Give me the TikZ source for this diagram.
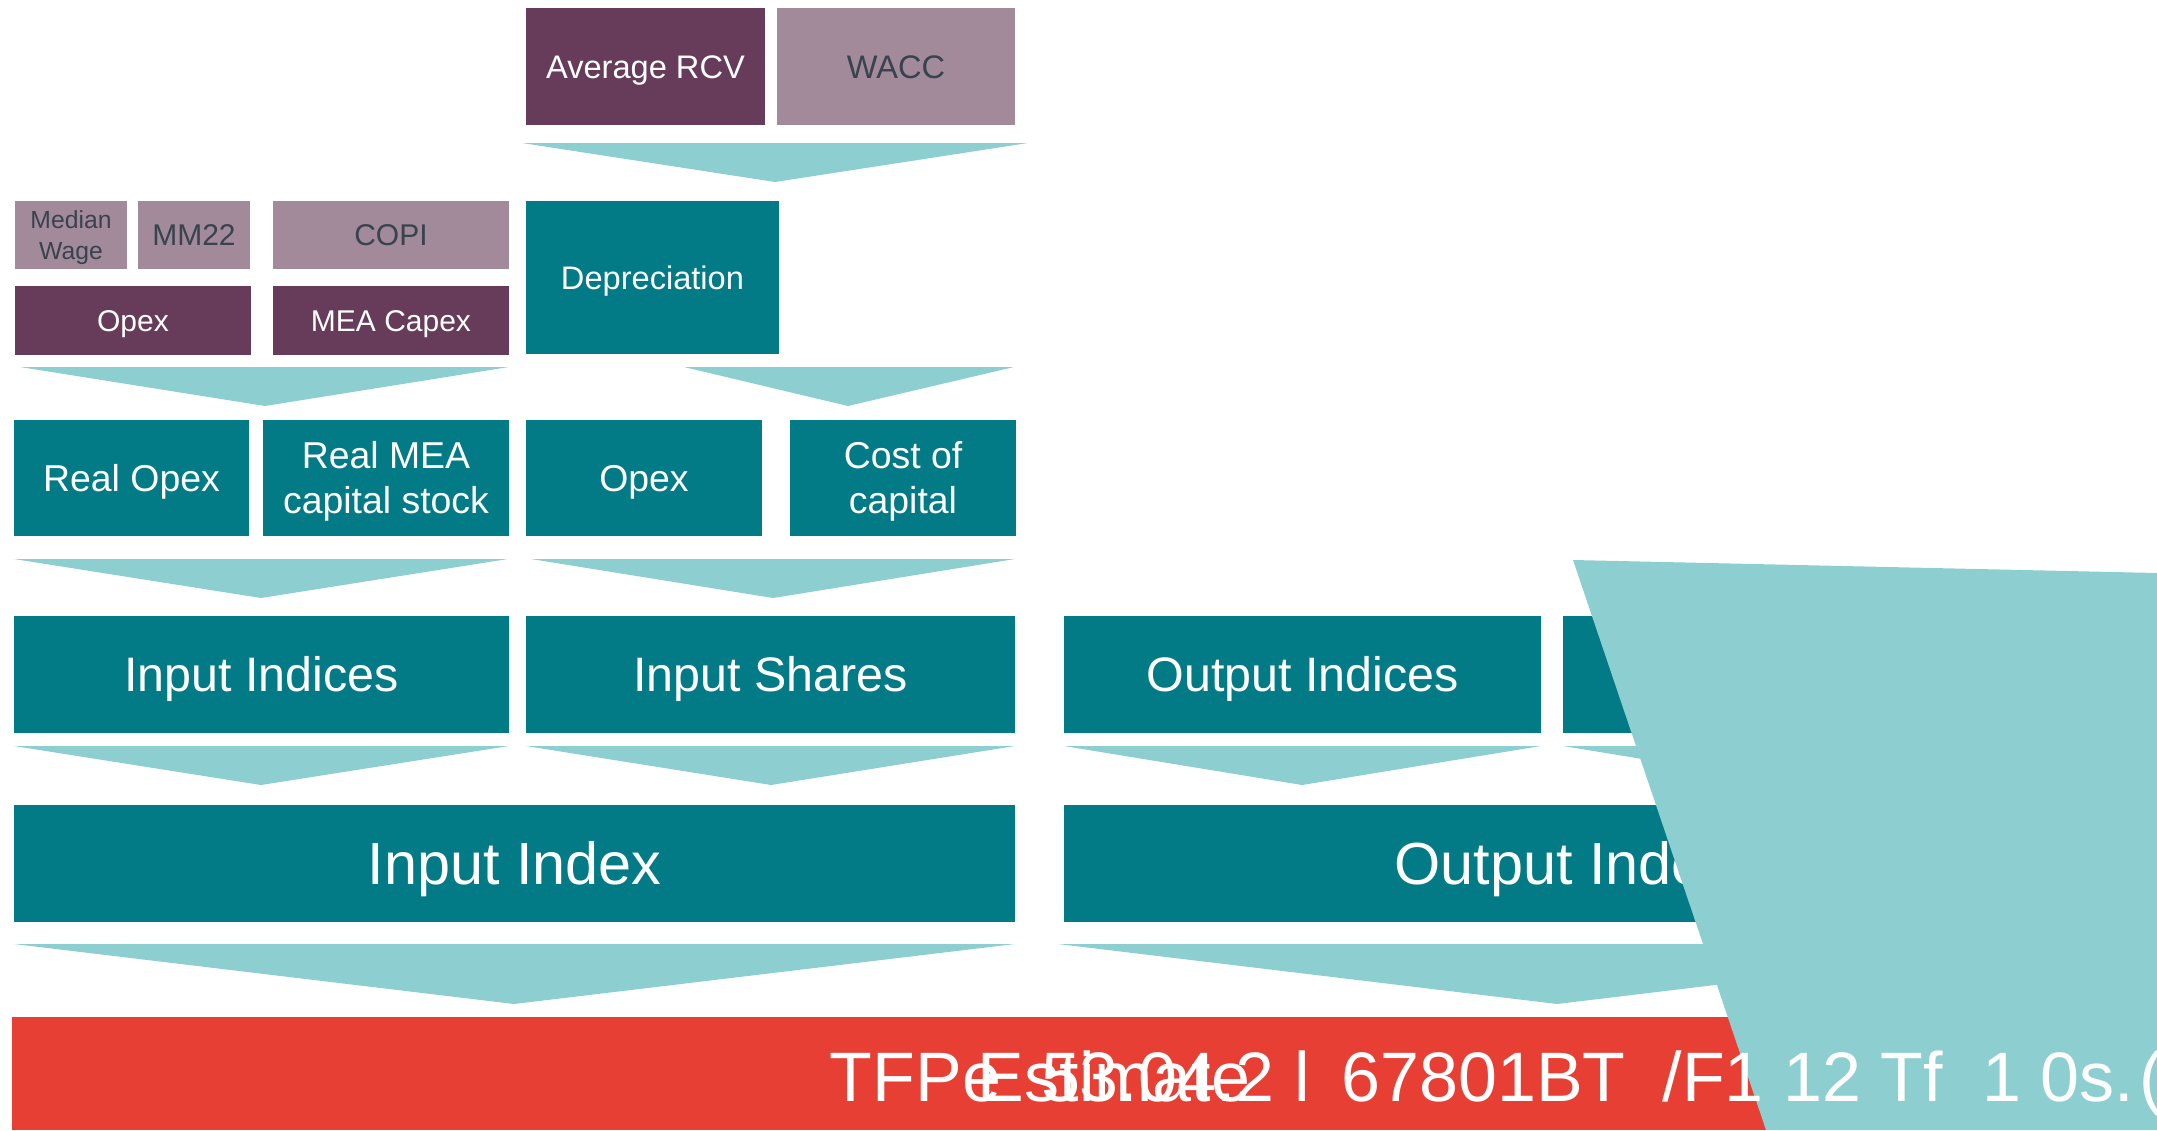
\documentclass[tikz,border=0pt]{standalone}
\usepackage{fontspec}
\setmainfont{Liberation Sans}
\definecolor{dpurple}{HTML}{673C5B}
\definecolor{lpurple}{HTML}{A38A9B}
\definecolor{tealbx}{HTML}{027B87}
\definecolor{lteal}{HTML}{8DCFD1}
\definecolor{redbar}{HTML}{E83F35}
\definecolor{darktext}{HTML}{37434D}
\tikzset{
  basebox/.style={rectangle, inner sep=0pt, outer sep=0pt, anchor=north west, align=center},
  tealbox/.style={basebox, fill=tealbx, text=white},
  dpbox/.style={basebox, fill=dpurple, text=white},
  lpbox/.style={basebox, fill=lpurple, text=darktext},
  chev/.style={fill=lteal},
  fA/.style={font=\fontsize{16.3pt}{19.6pt}\selectfont, text height=11.7pt, text depth=0pt},
  fB/.style={font=\fontsize{15pt}{18pt}\selectfont, text height=10.7pt, text depth=0pt},
  fMW/.style={font=\fontsize{12.35pt}{15.35pt}\selectfont, text height=24.2pt, text depth=0pt},
  fC/.style={font=\fontsize{18.7pt}{22.5pt}\selectfont, text height=13.4pt, text depth=0pt},
  fC2/.style={font=\fontsize{18.7pt}{22.5pt}\selectfont, text height=35.9pt, text depth=0pt},
  fD/.style={font=\fontsize{24.2pt}{29pt}\selectfont, text height=17.3pt, text depth=0pt},
  fE/.style={font=\fontsize{29.7pt}{35.6pt}\selectfont, text height=21.3pt, text depth=0pt},
  fT/.style={font=\fontsize{35pt}{42pt}\selectfont, text=white, inner sep=0pt, anchor=base west},
}
\begin{document}
\begin{tikzpicture}[x=0.5pt,y=-0.5pt]
\useasboundingbox (0,0) rectangle (2157,1130);
\clip (0,0) rectangle (2157,1130);
% row 1
\node[dpbox, fA, minimum width=119.5pt, minimum height=58.5pt] (avgrcv) at (526,8) {Average RCV};
\node[lpbox, fA, minimum width=119pt, minimum height=58.5pt] (wacc) at (777,8) {WACC};
\fill[chev] (522,143) -- (1028,143) -- (775,182) -- cycle;
% row 2
\node[lpbox, fMW, minimum width=56pt, minimum height=34pt] (median) at (15,201) {Median\\Wage};
\node[lpbox, fB, minimum width=56pt, minimum height=34pt] (mm22) at (138,201) {MM22};
\node[lpbox, fB, minimum width=118pt, minimum height=34pt] (copi) at (273,201) {COPI};
\node[tealbox, fA, minimum width=126.5pt, minimum height=76.5pt] (depr) at (526,201) {Depreciation};
\node[dpbox, fB, minimum width=118pt, minimum height=34.5pt] (opexA) at (15,286) {Opex};
\node[dpbox, fB, minimum width=118pt, minimum height=34.5pt] (capex) at (273,286) {MEA Capex};
\fill[chev] (20,367) -- (509,367) -- (265,406) -- cycle;
\fill[chev] (684,367) -- (1014,367) -- (848,406) -- cycle;
% row 3
\node[tealbox, fC, minimum width=117.5pt, minimum height=58pt] (realopex) at (14,420) {Real Opex};
\node[tealbox, fC2, minimum width=123pt, minimum height=58pt] (realmea) at (263,420) {Real MEA\\capital stock};
\node[tealbox, fC, minimum width=118pt, minimum height=58pt] (opexB) at (526,420) {Opex};
\node[tealbox, fC2, minimum width=113pt, minimum height=58pt] (coc) at (790,420) {Cost of\\capital};
\fill[chev] (14,559) -- (508,559) -- (261,598) -- cycle;
\fill[chev] (531,559) -- (1015,559) -- (773,598) -- cycle;
% row 4
\node[tealbox, fD, minimum width=247.5pt, minimum height=58.5pt] (inind) at (14,616) {Input Indices};
\node[tealbox, fD, minimum width=244.5pt, minimum height=58.5pt] (inshares) at (526,616) {Input Shares};
\node[tealbox, fD, minimum width=238.5pt, minimum height=58.5pt] (outind) at (1064,616) {Output Indices};
\node[tealbox, fD, minimum width=238.5pt, minimum height=58.5pt] (outind2) at (1563,616) {};
\fill[chev] (14,746) -- (509,746) -- (261,785) -- cycle;
\fill[chev] (526,746) -- (1015,746) -- (771,785) -- cycle;
\fill[chev] (1064,746) -- (1541,746) -- (1302,785) -- cycle;
\fill[chev] (1563,746) -- (2040,746) -- (1801,785) -- cycle;
% row 5
\node[tealbox, fE, minimum width=500.5pt, minimum height=58.5pt] (inindex) at (14,805) {Input Index};
\node[tealbox, fE, minimum width=500.5pt, minimum height=58.5pt] (outindex) at (1064,805) {Output Index};
\fill[chev] (14,944) -- (1015,944) -- (514,1004) -- cycle;
\fill[chev] (1058,944) -- (2056,944) -- (1557,1004) -- cycle;
% red bar
\node[basebox, fill=redbar, minimum width=1072.5pt, minimum height=56.5pt] (tfp) at (12,1017) {};
% overlapping polygon
\fill[lteal] (1573,560) -- (2157,573) -- (2157,1130) -- (1766,1130) -- cycle;
% bar texts
\node[fT] (tfptext) at (829.5,1101.5) {TFPe\hspace{20pt}53.04.2 l\hspace{16pt}67801BT\hspace{18.5pt}/F1 12 Tf\hspace{19.75pt}1 0s.\hspace{3pt}(};
\node[fT] (esttext) at (977.5,1101.5) {Estimate};
\end{tikzpicture}
\end{document}
